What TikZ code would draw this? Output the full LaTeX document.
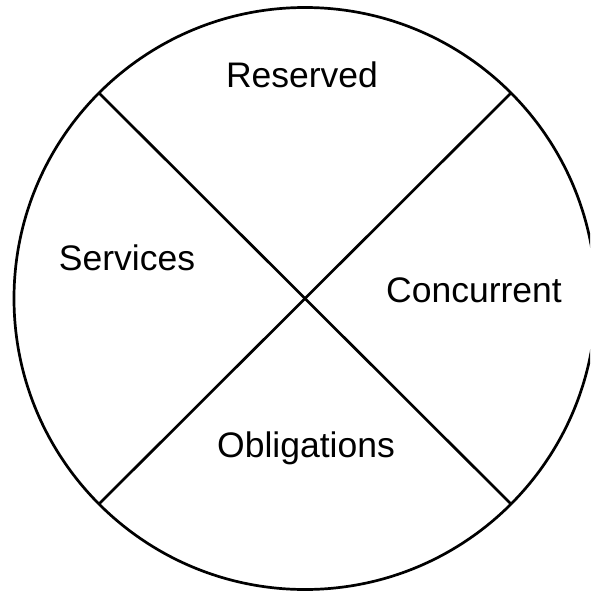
\documentclass[tikz,border=0pt]{standalone}
\usepackage{fontspec}
\setmainfont{Liberation Sans}
\begin{document}
\begin{tikzpicture}[x=1pt,y=-1pt,
  lbl/.style={anchor=base,inner sep=0pt,font=\fontsize{35.5}{42}\selectfont},
  edge/.style={line width=2.7pt,black}]
\useasboundingbox (0,0) rectangle (590,595);
\clip (0,0) rectangle (590,595);
\coordinate (c) at (305,298.5);
\draw[edge] (c) circle[radius=291];
\coordinate (tl) at (99,93);
\coordinate (tr) at (511,93);
\coordinate (bl) at (99,504);
\coordinate (br) at (511,504);
\draw[edge] (tl) -- (br);
\draw[edge] (tr) -- (bl);
\node[lbl] (res) at (302,87) {Reserved};
\node[lbl] (ser) at (127,270) {Services};
\node[lbl] (con) at (474,302) {Concurrent};
\node[lbl] (obl) at (306,457) {Obligations};
\end{tikzpicture}
\end{document}
